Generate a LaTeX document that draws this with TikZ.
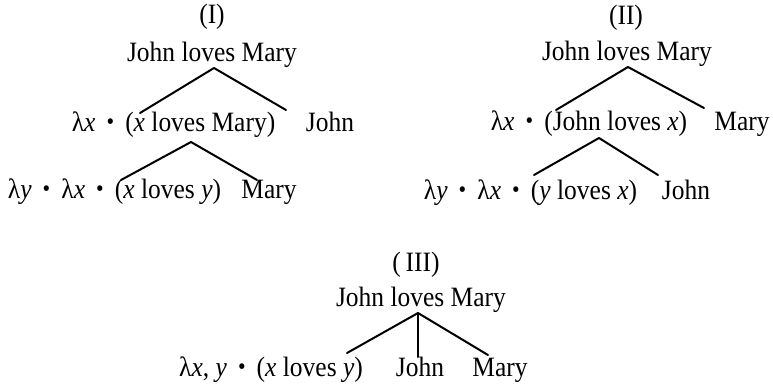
\documentclass[tikz,border=0pt]{standalone}
\usepackage{fontspec}
\setmainfont{Liberation Serif}[FakeStretch=0.91]
\newcommand{\lmdot}{\hspace{0.17em}\raisebox{0.12ex}{\scalebox{0.85}{\textbullet}}\hspace{0.17em}}
\begin{document}
\begin{tikzpicture}[x=0.5pt,y=-0.5pt,font=\fontsize{14}{16}\selectfont,line join=round,line cap=round,every node/.style={anchor=base},branch/.style={line width=1pt}]
			\useasboundingbox (0,0) rectangle (773,387);
			% (I)
			\node (t1) at (212,23) {(I)};
			\node (r1) at (212,61) {John loves Mary};
			\node (a1) at (173.5,131) {λ\textit{x} \lmdot{} (\textit{x} loves Mary)};
			\node (b1) at (330,131) {John};
			\node (c1) at (114.5,198) {λ\textit{y} \lmdot{} λ\textit{x} \lmdot{} (\textit{x} loves \textit{y})};
			\node (d1) at (269,198) {Mary};
			\coordinate (r1-top) at (214,68);
			\coordinate (a1-end) at (140,113);
			\coordinate (b1-end) at (286,110);
			\coordinate (a1-top) at (191,142);
			\coordinate (c1-end) at (121,180);
			\coordinate (d1-end) at (257,180);
			\draw[branch] (a1-end) -- (r1-top) -- (b1-end);
			\draw[branch] (c1-end) -- (a1-top) -- (d1-end);
			% (II)
			\node (t2) at (626,24) {(II)};
			\node (r2) at (627,60) {John loves Mary};
			\node (a2) at (589,130) {λ\textit{x} \lmdot{} (John loves \textit{x})};
			\node (b2) at (742,130) {Mary};
			\node (c2) at (530.5,199) {λ\textit{y} \lmdot{} λ\textit{x} \lmdot{} (\textit{y} loves \textit{x})};
			\node (d2) at (686,199) {John};
			\coordinate (r2-top) at (628,67);
			\coordinate (a2-end) at (556,110);
			\coordinate (b2-end) at (704,108);
			\coordinate (a2-top) at (599,138);
			\coordinate (c2-end) at (534,175);
			\coordinate (d2-end) at (658,175);
			\draw[branch] (a2-end) -- (r2-top) -- (b2-end);
			\draw[branch] (c2-end) -- (a2-top) -- (d2-end);
			% (III)
			\node (t3) at (416,271) {(\,III)};
			\node (r3) at (421,306) {John loves Mary};
			\node (a3) at (271,376) {λ\textit{x}, \textit{y} \lmdot{} (\textit{x} loves \textit{y})};
			\node (b3) at (420,376) {John};
			\node (c3) at (500,376) {Mary};
			\coordinate (r3-top) at (418,313);
			\coordinate (a3-end) at (347,353);
			\coordinate (b3-end) at (418,357);
			\coordinate (c3-end) at (488,355);
			\draw[branch] (a3-end) -- (r3-top) -- (c3-end);
			\draw[branch] (r3-top) -- (b3-end);
		\end{tikzpicture}
\end{document}
